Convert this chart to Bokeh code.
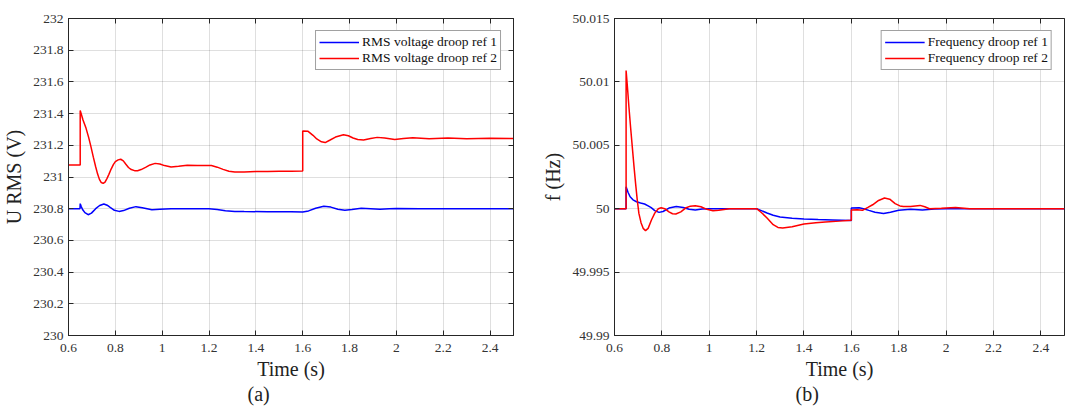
from bokeh.plotting import figure
from bokeh.layouts import row
from bokeh.models import (Range1d, FixedTicker, LinearAxis, CustomJSTickFormatter,
                          Legend, LegendItem, Title)
from bokeh.embed import file_html
from bokeh.resources import INLINE

# ---------------- data ----------------
x_ticks = [0.6, 0.8, 1.0, 1.2, 1.4, 1.6, 1.8, 2.0, 2.2, 2.4]
u_ticks = [230, 230.2, 230.4, 230.6, 230.8, 231, 231.2, 231.4, 231.6, 231.8, 232]
f_ticks = [49.99, 49.995, 50, 50.005, 50.01, 50.015]

t_u1 = [0.6, 0.649, 0.65, 0.654, 0.66, 0.67, 0.684, 0.698, 0.716, 0.733, 0.751, 0.765,
        0.778, 0.796, 0.816, 0.835, 0.86, 0.888, 0.915, 0.956, 0.99, 1.038, 1.1, 1.2,
        1.235, 1.27, 1.31, 1.35, 1.45, 1.55, 1.6, 1.625, 1.655, 1.69, 1.72, 1.75, 1.78,
        1.81, 1.85, 1.89, 1.93, 1.97, 2.0, 2.1, 2.5]
u_ref1 = [230.8, 230.8, 230.832, 230.815, 230.795, 230.775, 230.762, 230.772, 230.8,
          230.82, 230.83, 230.822, 230.808, 230.79, 230.783, 230.788, 230.803, 230.813,
          230.806, 230.794, 230.797, 230.8, 230.799, 230.8, 230.795, 230.787, 230.783,
          230.782, 230.781, 230.781, 230.779, 230.786, 230.803, 230.815, 230.81, 230.796,
          230.79, 230.795, 230.803, 230.8, 230.797, 230.8, 230.801, 230.8, 230.8]

t_u2 = [0.6, 0.65, 0.65, 0.662, 0.675, 0.686, 0.696, 0.706, 0.716, 0.724, 0.732, 0.74,
        0.748, 0.756, 0.764, 0.772, 0.782, 0.792, 0.8, 0.812, 0.823, 0.834, 0.845, 0.856,
        0.868, 0.882, 0.895, 0.91, 0.929, 0.948, 0.97, 0.99, 1.01, 1.038, 1.07, 1.107,
        1.15, 1.21, 1.235, 1.26, 1.285, 1.31, 1.35, 1.4, 1.45, 1.5, 1.55, 1.6, 1.6,
        1.623, 1.644, 1.66, 1.68, 1.696, 1.715, 1.74, 1.774, 1.795, 1.815, 1.835, 1.86,
        1.89, 1.918, 1.95, 1.993, 2.03, 2.07, 2.14, 2.22, 2.3, 2.4, 2.5]
u_ref2 = [231.076, 231.076, 231.419, 231.36, 231.307, 231.25, 231.19, 231.125, 231.065,
          231.02, 230.985, 230.965, 230.96, 230.968, 230.99, 231.015, 231.05, 231.08,
          231.097, 231.108, 231.112, 231.102, 231.08, 231.06, 231.047, 231.04, 231.04,
          231.047, 231.061, 231.076, 231.086, 231.082, 231.072, 231.063, 231.068, 231.074,
          231.072, 231.072, 231.062, 231.048, 231.036, 231.031, 231.032, 231.034, 231.035,
          231.036, 231.037, 231.038, 231.29, 231.288, 231.263, 231.24, 231.222, 231.217,
          231.232, 231.252, 231.267, 231.26, 231.246, 231.237, 231.234, 231.243, 231.25,
          231.246, 231.237, 231.243, 231.248, 231.241, 231.246, 231.242, 231.244, 231.243]

t_f1 = [0.6, 0.649, 0.649, 0.657, 0.666, 0.678, 0.693, 0.71, 0.727, 0.742, 0.755, 0.77,
        0.788, 0.805, 0.83, 0.861, 0.89, 0.915, 0.941, 0.97, 1.0, 1.2, 1.22, 1.244, 1.27,
        1.299, 1.35, 1.4, 1.46, 1.52, 1.6, 1.6, 1.633, 1.655, 1.674, 1.7, 1.736, 1.765,
        1.8, 1.85, 1.9, 1.95, 2.0, 2.5]
f_ref1 = [50.0, 50.0, 50.00173, 50.0013, 50.00094, 50.0007, 50.00055, 50.00045, 50.00037,
          50.00022, 50.00008, 49.99985, 49.99971, 49.99978, 50.00005, 50.00018, 50.0001,
          49.99995, 49.9999, 49.99997, 50.0, 50.0, 49.99985, 49.99966, 49.99948, 49.99935,
          49.99925, 49.99919, 49.99914, 49.99911, 49.99906, 50.00005, 50.00008, 49.99998,
          49.99987, 49.99972, 49.99963, 49.99972, 49.99987, 49.99995, 49.9999, 49.99997,
          50.0, 50.0]

t_f2 = [0.6, 0.649, 0.649, 0.655, 0.661, 0.668, 0.675, 0.682, 0.689, 0.696, 0.703, 0.712,
        0.721, 0.731, 0.742, 0.756, 0.77, 0.785, 0.797, 0.812, 0.83, 0.845, 0.859, 0.88,
        0.9, 0.92, 0.941, 0.965, 0.99, 1.016, 1.04, 1.085, 1.2, 1.22, 1.244, 1.27, 1.29,
        1.31, 1.35, 1.4, 1.45, 1.49, 1.55, 1.6, 1.6, 1.625, 1.647, 1.67, 1.69, 1.715,
        1.74, 1.762, 1.785, 1.805, 1.82, 1.85, 1.89, 1.91, 1.93, 1.98, 2.04, 2.1, 2.5]
f_ref2 = [50.0, 50.0, 50.0109, 50.0095, 50.008, 50.0064, 50.0049, 50.0034, 50.002, 50.0007,
          49.99963, 49.9989, 49.99845, 49.99827, 49.99845, 49.99911, 49.99965, 50.0,
          50.00008, 50.0, 49.99975, 49.9996, 49.99958, 49.99975, 50.00005, 50.0002,
          50.00024, 50.00015, 49.99995, 49.99984, 49.99988, 50.0, 50.0, 49.9997, 49.99927,
          49.99874, 49.99852, 49.99848, 49.99858, 49.9988, 49.9989, 49.99895, 49.99902,
          49.99908, 49.9999, 49.99992, 49.99987, 50.0001, 50.00031, 50.00065, 50.00084,
          50.00075, 50.0004, 50.00022, 50.00018, 50.00018, 50.00026, 50.00015, 50.0,
          50.00003, 50.0001, 50.0, 50.0]

FONT = "Liberation Serif"
AX = "#262626"
fmt_code = "return Number(tick.toFixed(6)).toString();"


def style_axis(ax, ticks, show_labels=True):
    ax.ticker = FixedTicker(ticks=ticks)
    ax.formatter = CustomJSTickFormatter(code=fmt_code if show_labels else "return '';")
    ax.major_tick_in = 5
    ax.major_tick_out = 0
    ax.minor_tick_line_color = None
    ax.axis_line_color = AX
    ax.major_tick_line_color = AX
    ax.major_label_text_font = FONT
    ax.major_label_text_color = "#333333"
    ax.axis_label_text_font = FONT
    ax.axis_label_text_font_style = "normal"
    ax.axis_label_text_color = "#222222"
    ax.axis_label_text_font_size = "20px"
    if show_labels:
        ax.major_label_text_font_size = "13.5px"
    else:
        ax.major_label_text_font_size = "0px"
        ax.major_label_standoff = 0


def make_fig(t1, y1, t2, y2, yr, yticks, ylabel, names, cap, cap_off, width, mbl, mbr,
             right_axis):
    p = figure(width=width, height=406, output_backend="svg", toolbar_location=None,
               x_range=Range1d(0.6, 2.5), y_range=Range1d(*yr),
               min_border_left=mbl, min_border_right=mbr, min_border_top=18,
               min_border_bottom=70)
    p.outline_line_color = AX
    p.outline_line_alpha = 1
    p.background_fill_color = "white"
    p.border_fill_color = "white"
    style_axis(p.xaxis[0], x_ticks)
    style_axis(p.yaxis[0], yticks)
    p.xaxis[0].axis_label = "Time (s)"
    p.xaxis[0].major_label_standoff = 8
    p.xaxis[0].axis_label_standoff = 3
    p.xaxis[0].axis_label_text_line_height = 0.9
    p.yaxis[0].axis_label = ylabel
    p.yaxis[0].major_label_standoff = 5
    p.yaxis[0].axis_label_standoff = 5
    top = LinearAxis()
    style_axis(top, x_ticks, show_labels=False)
    p.add_layout(top, "above")
    if right_axis:
        rt = LinearAxis()
        style_axis(rt, yticks, show_labels=False)
        p.add_layout(rt, "right")
    for g in p.grid:
        g.grid_line_color = AX
        g.grid_line_alpha = 0.15
    p.xgrid.ticker = FixedTicker(ticks=x_ticks)
    p.ygrid.ticker = FixedTicker(ticks=yticks)

    r1 = p.line(t1, y1, line_color="#0000ff", line_width=1.5)
    r2 = p.line(t2, y2, line_color="#ff0000", line_width=1.5)
    leg = Legend(items=[LegendItem(label=names[0], renderers=[r1]),
                        LegendItem(label=names[1], renderers=[r2])],
                 location="top_right", margin=12, padding=3, spacing=0,
                 glyph_width=40, glyph_height=14, label_height=14, label_standoff=3,
                 label_text_font=FONT, label_text_font_size="13.5px",
                 label_text_color="#111111",
                 border_line_color="#444444", border_line_width=1.5,
                 background_fill_color="white", background_fill_alpha=1)
    p.add_layout(leg, "center")
    t = Title(text=cap, align="left", offset=cap_off, text_font=FONT,
              text_font_size="20px", text_font_style="normal", text_color="#222222",
              standoff=0, text_line_height=0.8, vertical_align="top")
    p.add_layout(t, "below")
    return p


p1 = make_fig(t_u1, u_ref1, t_u2, u_ref2, (230, 232), u_ticks, "U RMS (V)",
              ["RMS voltage droop ref 1", "RMS voltage droop ref 2"], "(a)", 179,
              533, 67, 20, True)
p2 = make_fig(t_f1, f_ref1, t_f2, f_ref2, (49.99, 50.015), f_ticks, "f (Hz)",
              ["Frequency droop ref 1", "Frequency droop ref 2"], "(b)", 181,
              533, 81, 2, False)

p = row(p1, p2)
open("out.html", "w").write(file_html(p, INLINE))
